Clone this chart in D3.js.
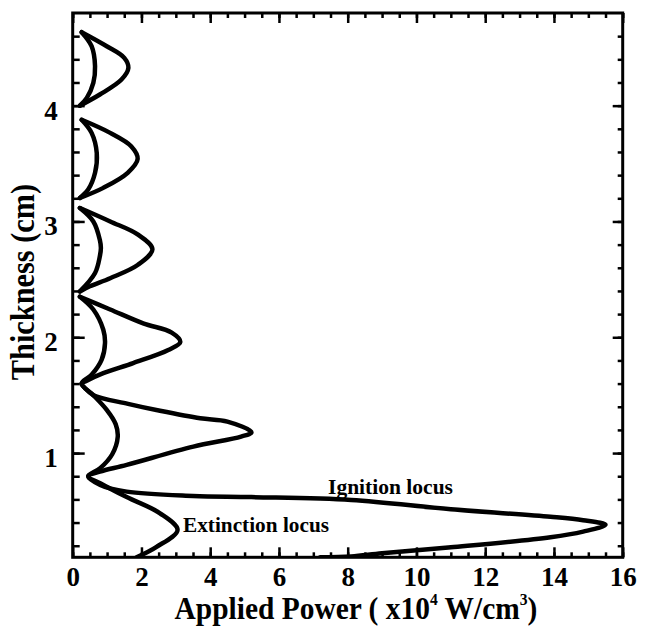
<!DOCTYPE html>
<html>
<head>
<meta charset="utf-8">
<script src="https://cdn.jsdelivr.net/npm/d3@7"></script>
<style>
  body { margin: 0; background: #fff; }
  svg text { font-family: "Liberation Serif", "Times New Roman", serif; font-weight: bold; fill: #000; }
</style>
</head>
<body>
<script>
// x = applied power (x10^4 W/cm3), y = thickness (cm)
var xTicks = [0, 2, 4, 6, 8, 10, 12, 14, 16];
var yTicks = [1, 2, 3, 4];

// ignition locus, one array per continuous piece (bottom lobes are joined at the cusps)
var ignitionLow = [[7.2,0.1],[8.1,0.106],[9.0,0.135],[11.0,0.186],[13.9,0.273],[14.85,0.322],[15.5,0.38],
  [14.85,0.42],[13.9,0.45],[11.0,0.515],[8.1,0.595],[5.2,0.62],[3.5,0.63],[1.57,0.667],[0.8,0.725],[0.45,0.80],
  [0.79,0.84],[1.57,0.898],[3.51,1.056],[4.9,1.142],[5.2,1.18],[4.5,1.272],[3.71,1.30],[2.54,1.365],
  [1.61,1.425],[0.6,1.5],[0.36,1.56],[0.26,1.6],[0.41,1.625],[0.89,1.69],[1.76,1.777],[2.78,1.89],[3.13,1.96],
  [2.88,2.04],[2.05,2.12],[1.09,2.24],[0.21,2.35]];
var ignition3 = [[0.21,2.396],[0.5,2.44],[1.09,2.51],[1.9,2.626],[2.32,2.76],[1.9,2.886],[1.09,3.0],[0.21,3.116]];
var ignition4 = [[0.21,3.203],[0.89,3.29],[1.6,3.42],[1.89,3.54],[1.7,3.65],[1.09,3.765],[0.26,3.878]];
var ignition5 = [[0.21,4.0],[0.79,4.096],[1.42,4.225],[1.62,4.326],[1.5,4.413],[0.99,4.513],[0.26,4.634]];

// extinction locus
var extinctionLow = [[1.86,0.1],[2.44,0.19],[3.05,0.336],[2.54,0.48],[1.57,0.62],[0.8,0.74],[0.45,0.80],
  [0.8,0.87],[1.15,0.99],[1.31,1.14],[1.25,1.25],[0.99,1.373],[0.6,1.5],[0.26,1.6],
  [0.55,1.676],[0.84,1.805],[0.94,1.95],[0.89,2.065],[0.6,2.24],[0.21,2.35]];
var extinction3 = [[0.21,2.396],[0.65,2.555],[0.79,2.7],[0.82,2.77],[0.79,2.84],[0.6,3.0],[0.21,3.116]];
var extinction4 = [[0.21,3.203],[0.45,3.275],[0.65,3.42],[0.7,3.59],[0.55,3.765],[0.26,3.878]];
var extinction5 = [[0.21,4.0],[0.41,4.067],[0.6,4.197],[0.65,4.34],[0.55,4.513],[0.26,4.634]];

var curves = [ignitionLow, ignition3, ignition4, ignition5, extinctionLow, extinction3, extinction4, extinction5];

var width = 645, height = 626;
// plot frame (note: "top" is reserved on window, so use other names)
var pLeft = 72.7, pRight = 622.7, pTop = 13, pBottom = 557.3;

var x = d3.scaleLinear().domain([0, 16]).range([pLeft, pRight]);
var y = d3.scaleLinear().domain([0.1, 4.8]).range([pBottom, pTop]);

var svg = d3.select("body").append("svg")
  .attr("width", width)
  .attr("height", height);

svg.append("defs").append("clipPath").attr("id", "plot")
  .append("rect")
  .attr("x", pLeft).attr("y", pTop)
  .attr("width", pRight - pLeft).attr("height", pBottom - pTop);

function styleAxis(g) {
  g.select(".domain").remove();
  g.selectAll("line").attr("stroke", "#000").attr("stroke-width", 2.5);
}

// minor ticks
svg.append("g").attr("transform", "translate(0," + pBottom + ")")
  .call(d3.axisBottom(x).tickValues(d3.range(0, 16.01, 0.5)).tickFormat("").tickSize(-5))
  .call(styleAxis);
svg.append("g").attr("transform", "translate(0," + pTop + ")")
  .call(d3.axisTop(x).tickValues(d3.range(0, 16.01, 0.5)).tickFormat("").tickSize(-5))
  .call(styleAxis);
svg.append("g").attr("transform", "translate(" + pLeft + ",0)")
  .call(d3.axisLeft(y).tickValues(d3.range(0.2, 4.7, 0.2)).tickFormat("").tickSize(-7))
  .call(styleAxis);
svg.append("g").attr("transform", "translate(" + pRight + ",0)")
  .call(d3.axisRight(y).tickValues(d3.range(0.2, 4.7, 0.2)).tickFormat("").tickSize(-5))
  .call(styleAxis);

// major ticks + labels
var xAxis = svg.append("g").attr("transform", "translate(0," + pBottom + ")")
  .call(d3.axisBottom(x).tickValues(xTicks).tickFormat(d3.format("d")).tickSizeInner(-10).tickSizeOuter(0).tickPadding(10))
  .call(styleAxis);
xAxis.attr("font-family", null).attr("font-size", null);
xAxis.selectAll("text").style("font-size", "27px");

svg.append("g").attr("transform", "translate(0," + pTop + ")")
  .call(d3.axisTop(x).tickValues(xTicks).tickFormat("").tickSize(-10))
  .call(styleAxis);

var yAxis = svg.append("g").attr("transform", "translate(" + pLeft + ",0)")
  .call(d3.axisLeft(y).tickValues(yTicks).tickFormat(d3.format("d")).tickSizeInner(-12).tickSizeOuter(0).tickPadding(15))
  .call(styleAxis);
yAxis.attr("font-family", null).attr("font-size", null);
yAxis.selectAll("text").style("font-size", "27px").attr("dy", "0.5em");

svg.append("g").attr("transform", "translate(" + pRight + ",0)")
  .call(d3.axisRight(y).tickValues(yTicks).tickFormat("").tickSize(-10))
  .call(styleAxis);

// frame
svg.append("rect")
  .attr("x", pLeft).attr("y", pTop)
  .attr("width", pRight - pLeft).attr("height", pBottom - pTop)
  .attr("fill", "none").attr("stroke", "#000").attr("stroke-width", 3);

// loci
var line = d3.line()
  .x(function(d) { return x(d[0]); })
  .y(function(d) { return y(d[1]); })
  .curve(d3.curveCatmullRom.alpha(0.5));

svg.append("g").attr("clip-path", "url(#plot)")
  .selectAll("path")
  .data(curves)
  .enter().append("path")
  .attr("d", line)
  .attr("fill", "none")
  .attr("stroke", "#000")
  .attr("stroke-width", 4.5)
  .attr("stroke-linejoin", "round")
  .attr("stroke-linecap", "round");

// labels on the curves
svg.append("text")
  .attr("x", 328).attr("y", 494)
  .attr("textLength", 125).attr("lengthAdjust", "spacingAndGlyphs")
  .style("font-size", "21px")
  .text("Ignition locus");
svg.append("text")
  .attr("x", 183).attr("y", 532)
  .attr("textLength", 146).attr("lengthAdjust", "spacingAndGlyphs")
  .style("font-size", "21px")
  .text("Extinction locus");

// axis titles
var xt = svg.append("text")
  .attr("transform", "translate(356,619) scale(0.92,1)")
  .attr("text-anchor", "middle")
  .style("font-size", "32px");
xt.append("tspan").text("Applied Power ( x10");
xt.append("tspan").attr("dy", -14).style("font-size", "17px").text("4");
xt.append("tspan").attr("dy", 14).text(" W/cm");
xt.append("tspan").attr("dy", -14).style("font-size", "17px").text("3");
xt.append("tspan").attr("dy", 14).text(")");

svg.append("text")
  .attr("transform", "translate(34,282) rotate(-90) scale(0.92,1)")
  .attr("text-anchor", "middle")
  .style("font-size", "33px")
  .text("Thickness (cm)");
</script>
</body>
</html>
